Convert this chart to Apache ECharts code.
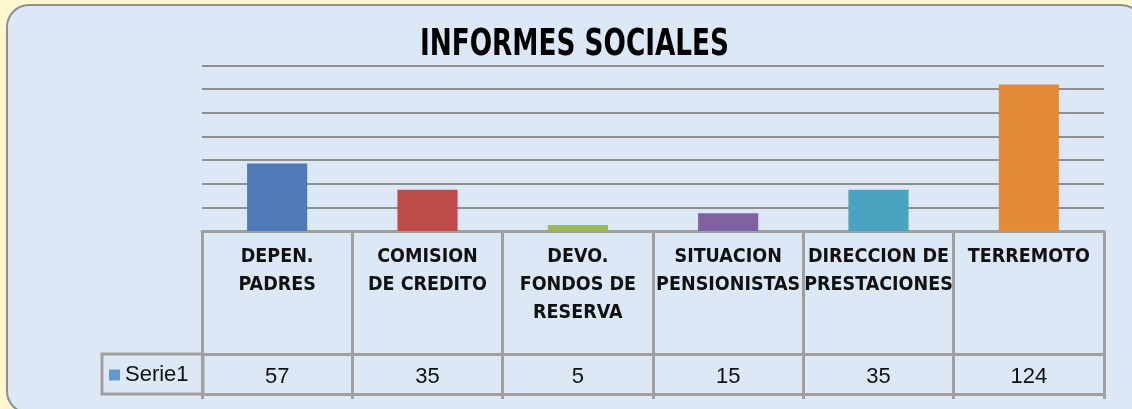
<!DOCTYPE html>
<html><head><meta charset="utf-8">
<script src="https://cdn.jsdelivr.net/npm/echarts@6/dist/echarts.min.js"></script>
<style>html,body{margin:0;padding:0;background:#fdf6cf}#c{width:1132px;height:409px}</style>
</head><body><div id="c"></div>
<script>
const categories = ['DEPEN.\nPADRES','COMISION\nDE CREDITO','DEVO.\nFONDOS DE\nRESERVA','SITUACION\nPENSIONISTAS','DIRECCION DE\nPRESTACIONES','TERREMOTO'];
const values = [57, 35, 5, 15, 35, 124];
const barColors = ['#4e7ab5','#be4b48','#9aba59','#7f62a1','#4aa3bf','#e48b3a'];
const seriesName = 'Serie1';
const titleText = 'INFORMES SOCIALES';
const yTicks = [0,20,40,60,80,100,120,140];

const narrow = "'DejaVu Sans Condensed','Liberation Sans Narrow',sans-serif";
const regular = "'Liberation Sans',Arial,sans-serif";
const gridGray = '#8f8f8f';
const tableGray = '#a19f9f';

const chart = echarts.init(document.getElementById('c'), null, {renderer:'canvas'});
chart.setOption({
  backgroundColor: '#fdf6cf',
  animation: false,
  legend: {
    data: [seriesName], left: 109, top: 364, icon: 'rect', itemWidth: 11, itemHeight: 11,
    textStyle: {fontFamily: regular, fontSize: 22, color: '#111'}, padding: 0
  },
  graphic: [
    {type:'rect', z:-100, silent:true, shape:{x:7,y:5,width:1136,height:408,r:22},
     style:{fill:'#dde8f7', stroke:'#8e8e8e', lineWidth:2}},
    {type:'rect', z:10, silent:true, shape:{x:102,y:354,width:101,height:40},
     style:{fill:'none', stroke:tableGray, lineWidth:3}},
    {type:'text', z:10, silent:true, x:420, y:45, scaleX:0.79, originX:0,
     style:{text:titleText, fontFamily:narrow, fontWeight:'bold', fontSize:37, fill:'#000',
            align:'left', verticalAlign:'middle'}}
  ],
  grid: [
    {left: 202, right: 28, top: 65.5, bottom: 178},
    {left: 202, right: 28, top: 354, height: 40}
  ],
  xAxis: [
    {type:'category', gridIndex:0, data: categories, boundaryGap: true,
     axisLine:{show:true, lineStyle:{color:tableGray, width:3}},
     axisTick:{show:true, length:168, lineStyle:{color:tableGray, width:3}},
     axisLabel:{interval:0, margin:12, fontFamily: narrow, fontWeight:'bold', fontSize:19.5, lineHeight:28, color:'#111'}},
    {type:'category', gridIndex:1, position:'bottom', data: values.map(String),
     axisLine:{show:true, lineStyle:{color:tableGray, width:3}},
     axisTick:{show:false},
     axisLabel:{interval:0, inside:true, margin:6, fontFamily: regular, fontSize:22, color:'#111'}},
    {type:'category', gridIndex:1, position:'top', data: values.map(String),
     axisLine:{show:true, lineStyle:{color:tableGray, width:3}},
     axisTick:{show:false}, axisLabel:{show:false}}
  ],
  yAxis: [
    {type:'value', gridIndex:0, min: yTicks[0], max: yTicks[yTicks.length-1], interval: yTicks[1]-yTicks[0],
     axisLine:{show:false}, axisTick:{show:false}, axisLabel:{show:false},
     splitLine:{show:true, lineStyle:{color:gridGray, width:2}}},
    {type:'value', gridIndex:1, show:false}
  ],
  series: [{
    name: seriesName, type: 'bar', xAxisIndex: 0, yAxisIndex: 0, barWidth: '40%',
    itemStyle: {color: '#6398d0'},
    data: values.map((v,i)=>({value:v, itemStyle:{color: barColors[i]}}))
  }]
});
</script></body></html>
